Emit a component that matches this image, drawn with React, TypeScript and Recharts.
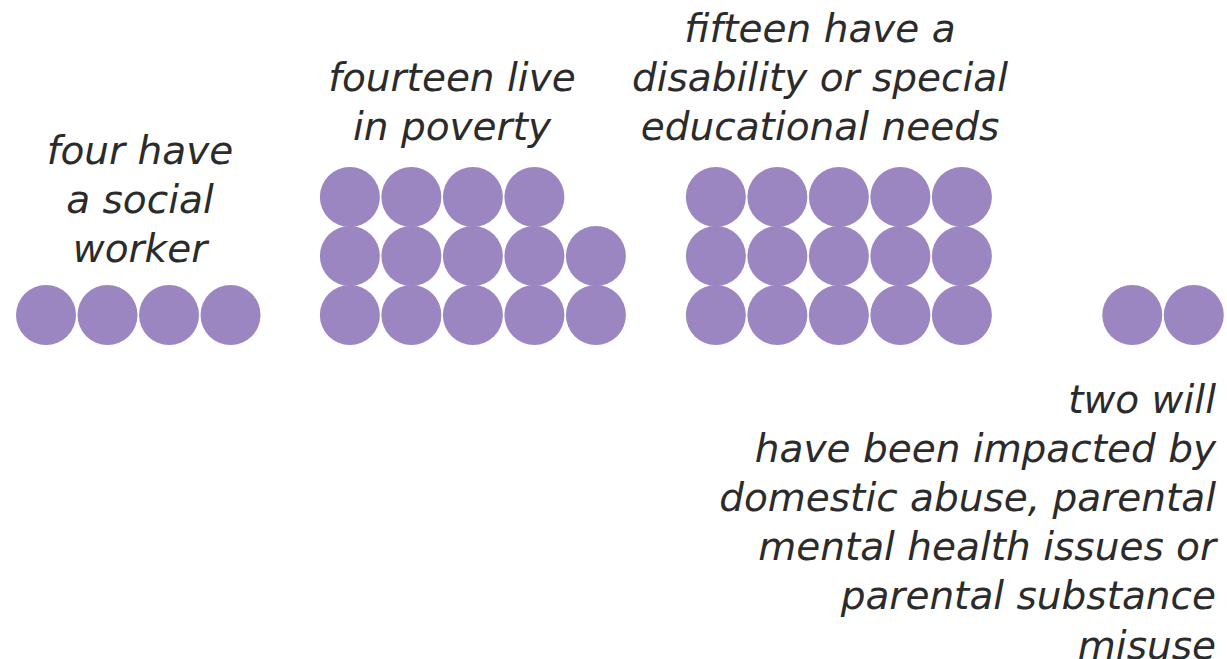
import { Customized, Scatter, ScatterChart, XAxis, YAxis } from "recharts";

// one dot per child, out of every fifty (or so) children
const groups = ["social worker", "poverty", "disability / SEN", "domestic abuse etc."];
const counts = [4, 14, 15, 2];

const captions = [
  ["four have", "a social", "worker"],
  ["fourteen live", "in poverty"],
  ["fifteen have a", "disability or special", "educational needs"],
  ["two will", "have been impacted by", "domestic abuse, parental", "mental health issues or", "parental substance", "misuse"],
];

// layout: where each group starts, in dot columns
const groupStart = [0, 4.94, 10.89, 17.66];
const perRow = 5;

const PURPLE = "#9b86c2";
const INK = "#2b2b2b";
const FONT = "'DejaVu Sans', sans-serif";

function dotsFor(i: number) {
  const out: { x: number; y: number }[] = [];
  for (let k = 0; k < counts[i]; k++) {
    out.push({ x: groupStart[i] + (k % perRow), y: Math.floor(k / perRow) });
  }
  return out;
}

const Dot = (props: any) => <circle cx={props.cx} cy={props.cy} r={30} fill={PURPLE} />;

// caption anchor points: [x, first line y, text anchor]
const captionPos: [number, number, "middle" | "end"][] = [
  [140, 150, "middle"],
  [452, 77, "middle"],
  [820, 28, "middle"],
  [1216, 399, "end"],
];

function Captions() {
  return (
    <g>
      {captions.map((lines, i) => (
        <text
          key={groups[i]}
          x={captionPos[i][0]}
          y={captionPos[i][1]}
          textAnchor={captionPos[i][2]}
          fill={INK}
          fontFamily={FONT}
          fontStyle="italic"
          fontSize={39}
        >
          {lines.map((l, j) => (
            <tspan key={j} x={captionPos[i][0]} y={captionPos[i][1] + j * 49.2} dominantBaseline="central">
              {l}
            </tspan>
          ))}
        </text>
      ))}
    </g>
  );
}

export default function App() {
  return (
    <div style={{ position: "absolute", left: 0, top: 0, background: "#fff" }}>
      <ScatterChart width={1227} height={659} margin={{ top: 0, right: 0, bottom: 0, left: 0 }}>
        <XAxis type="number" dataKey="x" domain={[-0.748, 19.2]} hide />
        <YAxis type="number" dataKey="y" domain={[-5.83, 5.34]} hide />
        {groups.map((g, i) => (
          <Scatter key={g} name={g} data={dotsFor(i)} shape={Dot} isAnimationActive={false} />
        ))}
        <Customized component={<Captions />} />
      </ScatterChart>
    </div>
  );
}
